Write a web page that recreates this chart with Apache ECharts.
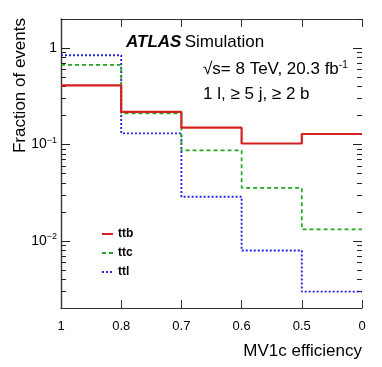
<!DOCTYPE html>
<html>
<head>
<meta charset="utf-8">
<script src="https://cdn.jsdelivr.net/npm/echarts@6/dist/echarts.min.js"></script>
<style>
  html, body { margin: 0; padding: 0; background: #fff; }
  #chart { width: 382px; height: 367px; }
</style>
</head>
<body>
<div id="chart"></div>
<script>
var dom = document.getElementById('chart');
var myChart = echarts.init(dom);

// bin edges, shown right to left as efficiency working points
var edgeLabels = ['1', '0.8', '0.7', '0.6', '0.5', '0'];
var ttb = [0.41, 0.217, 0.149, 0.102, 0.128];
var ttc = [0.667, 0.209, 0.0865, 0.0354, 0.0131];
var ttl = [0.84, 0.130, 0.0286, 0.0079, 0.00296];

var majorTicks = [0.01, 0.1, 1];
var minorTicks = [0.003, 0.004, 0.005, 0.006, 0.007, 0.008, 0.009,
  0.02, 0.03, 0.04, 0.05, 0.06, 0.07, 0.08, 0.09,
  0.2, 0.3, 0.4, 0.5, 0.6, 0.7, 0.8, 0.9, 2];

// histogram -> step line points (last bin closed at right edge)
function toSteps(vals) {
  var pts = vals.map(function (v, i) { return [i, v]; });
  pts.push([vals.length, vals[vals.length - 1]]);
  return pts;
}

var font = '"Liberation Sans", Arial, sans-serif';
var frameColor = '#333';

function xAx(pos, showLabel) {
  return {
    type: 'value',
    min: 0,
    max: 5,
    interval: 1,
    position: pos,
    axisLine: { show: true, onZero: false, lineStyle: { color: frameColor, width: 1.2 } },
    splitLine: { show: false },
    axisTick: { show: true, inside: true, length: 8, lineStyle: { color: frameColor } },
    axisLabel: {
      show: showLabel,
      fontFamily: font,
      fontSize: 13,
      color: '#000',
      margin: 12,
      formatter: function (v) { return edgeLabels[Math.round(v)]; }
    }
  };
}

var names = ['ttb', 'ttc', 'ttl'];
var colors = ['#d42020', '#22a822', '#2424e4'];
var types = ['solid', [4, 3], [2, 2]];
var widths = [2.2, 1.7, 1.9];
var values = [ttb, ttc, ttl];

var series = values.map(function (vals, i) {
  return {
    name: names[i],
    type: 'line',
    step: 'end',
    showSymbol: false,
    symbol: 'none',
    z: 10 - i,
    itemStyle: { color: colors[i] },
    lineStyle: { color: colors[i], width: widths[i], type: types[i] },
    data: toSteps(vals)
  };
});

// log-axis ticks (major + minor) on both sides of the frame
var tickData = majorTicks.concat(minorTicks).map(function (v) { return [0, v]; });

series.push({
  type: 'custom',
  silent: true,
  renderItem: function (params, api) {
    var v = api.value(1);
    var lg = Math.log10(v);
    var len = Math.abs(lg - Math.round(lg)) < 1e-6 ? 9 : 5;
    var l = api.coord([0, v]), r = api.coord([5, v]);
    var y = Math.round(l[1]) + 0.5;
    var st = { stroke: '#222', lineWidth: 1 };
    return {
      type: 'group',
      children: [
        { type: 'line', shape: { x1: l[0], y1: y, x2: l[0] + len, y2: y }, style: st },
        { type: 'line', shape: { x1: r[0], y1: y, x2: r[0] - len, y2: y }, style: st }
      ]
    };
  },
  encode: { x: 0, y: 1 },
  data: tickData
});

var option = {
  backgroundColor: '#fff',
  animation: false,
  grid: { left: 61, right: 20, top: 19, bottom: 59 },
  xAxis: [xAx('bottom', true), xAx('top', false)],
  yAxis: [
    {
      type: 'log',
      logBase: 10,
      min: 0.002,
      max: 2,
      position: 'left',
      axisLine: { show: true, lineStyle: { color: frameColor, width: 1.2 } },
      splitLine: { show: false },
      axisTick: { show: false },
      axisLabel: {
        customValues: majorTicks,
        fontFamily: font,
        fontSize: 14,
        color: '#000',
        margin: 4,
        formatter: function (v) {
          var e = Math.round(Math.log10(v));
          if (e === 0) return '1';
          return '10{s|' + (e < 0 ? '\u2212' : '') + Math.abs(e) + '}';
        },
        rich: {
          s: { fontSize: 9, verticalAlign: 'top', padding: [0, 0, 8, 0], fontFamily: font, color: '#000' }
        }
      }
    },
    {
      type: 'log',
      logBase: 10,
      min: 0.002,
      max: 2,
      position: 'right',
      axisLine: { show: true, lineStyle: { color: frameColor, width: 1.2 } },
      splitLine: { show: false },
      axisTick: { show: false },
      axisLabel: { show: false }
    }
  ],
  legend: {
    orient: 'vertical',
    left: 96,
    top: 223,
    itemWidth: 11,
    itemHeight: 14,
    itemGap: 7,
    itemStyle: { color: 'rgba(0,0,0,0)', borderColor: 'rgba(0,0,0,0)', borderWidth: 0 },
    textStyle: { fontFamily: font, fontSize: 12, fontWeight: 'bold', color: '#000' },
    data: names
  },
  graphic: [
    {
      type: 'text', left: 12, top: 18,
      style: { text: 'Fraction of events', font: '17px ' + font, fill: '#000' },
      rotation: Math.PI / 2
    },
    {
      type: 'text', right: 20, top: 343,
      style: { text: 'MV1c efficiency', font: '17px ' + font, fill: '#000' }
    },
    {
      type: 'text', left: 126, top: 34,
      style: {
        text: '{a|ATLAS} {b|Simulation}',
        rich: {
          a: { font: 'italic bold 17px ' + font, fill: '#000' },
          b: { font: '17px ' + font, fill: '#000' }
        }
      }
    },
    {
      type: 'text', left: 203, top: 60,
      style: {
        text: '\u221As= 8 TeV, 20.3 fb{s|-1}',
        font: '17px ' + font, fill: '#000',
        rich: { s: { font: '10px ' + font, fill: '#000', verticalAlign: 'top', padding: [0, 0, 9, 0] } }
      }
    },
    {
      type: 'text', left: 203, top: 86,
      style: { text: '1 l, \u2265 5 j, \u2265 2 b', font: '17px ' + font, fill: '#000' }
    }
  ],
  series: series
};

myChart.setOption(option);
</script>
</body>
</html>
